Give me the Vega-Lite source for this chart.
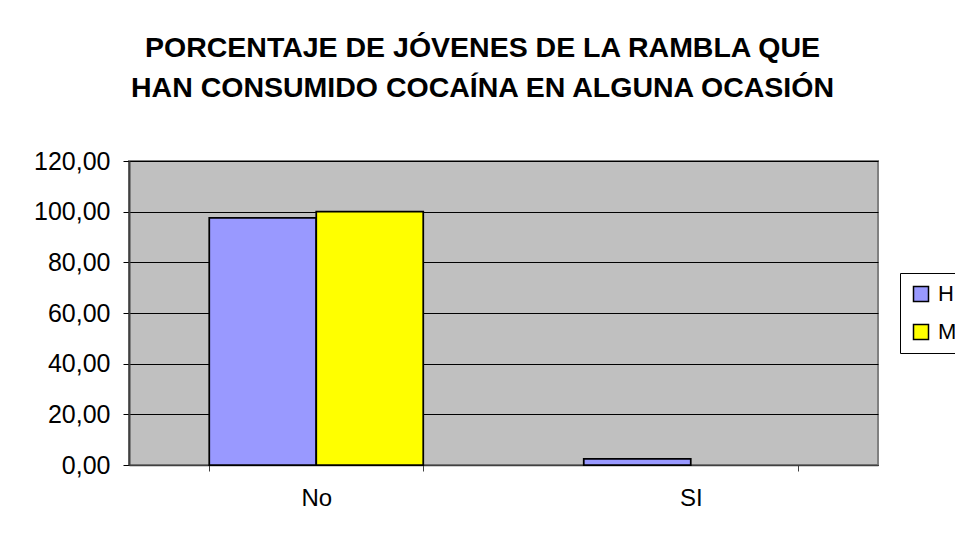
{
  "$schema": "https://vega.github.io/schema/vega-lite/v6.json",
  "autosize": "none",
  "width": 749,
  "height": 304,
  "padding": {"left": 129, "top": 161, "right": 77, "bottom": 68},
  "background": "white",
  "title": {
    "text": ["PORCENTAJE DE JÓVENES DE LA RAMBLA QUE", "HAN CONSUMIDO COCAÍNA EN ALGUNA OCASIÓN"],
    "font": "Liberation Sans",
    "fontSize": 28.5,
    "fontWeight": "bold",
    "color": "black",
    "anchor": "middle",
    "dx": -21,
    "lineHeight": 40,
    "offset": 47
  },
  "data": {
    "values": [
      {"respuesta": "No", "sexo": "H", "porcentaje": 97.56},
      {"respuesta": "No", "sexo": "M", "porcentaje": 100.0},
      {"respuesta": "SI", "sexo": "H", "porcentaje": 2.44},
      {"respuesta": "SI", "sexo": "M", "porcentaje": 0.0}
    ]
  },
  "mark": {"type": "bar", "stroke": "black"},
  "encoding": {
    "x": {
      "field": "respuesta",
      "type": "nominal",
      "sort": ["No", "SI"],
      "scale": {"paddingInner": 0.4286, "paddingOuter": 0.2143},
      "axis": {
        "title": null,
        "labelAngle": 0,
        "labelFont": "Liberation Sans",
        "labelFontSize": 24,
        "labelColor": "black",
        "labelPadding": 15,
        "tickBand": "extent",
        "tickSize": 6,
        "tickColor": "#404040",
        "domainColor": "#404040",
        "domainWidth": 1.5
      }
    },
    "xOffset": {
      "field": "sexo",
      "type": "nominal",
      "scale": {"paddingInner": 0, "paddingOuter": 0}
    },
    "y": {
      "field": "porcentaje",
      "type": "quantitative",
      "scale": {"domain": [0, 120], "nice": false},
      "axis": {
        "title": null,
        "values": [0, 20, 40, 60, 80, 100, 120],
        "labelExpr": "replace(format(datum.value, '.2f'), '.', ',')",
        "labelFont": "Liberation Sans",
        "labelFontSize": 25,
        "labelColor": "black",
        "labelPadding": 13,
        "tickSize": 6,
        "tickColor": "black",
        "domainColor": "#404040",
        "domainWidth": 2,
        "grid": true,
        "gridColor": "black",
        "gridWidth": 1,
        "gridOpacity": 1
      }
    },
    "color": {
      "field": "sexo",
      "type": "nominal",
      "scale": {"domain": ["H", "M"], "range": ["#9999FF", "#FFFF00"]},
      "legend": {
        "title": null,
        "orient": "none",
        "legendX": 771,
        "legendY": 112,
        "strokeColor": "black",
        "fillColor": "white",
        "padding": 10,
        "symbolType": "square",
        "symbolSize": 225,
        "symbolStrokeColor": "black",
        "symbolStrokeWidth": 1.5,
        "symbolOpacity": 1,
        "labelFont": "Liberation Sans",
        "labelFontSize": 22,
        "labelColor": "black",
        "rowPadding": 16,
        "labelOffset": 6
      }
    },
    "strokeWidth": {
      "condition": {"test": "datum.porcentaje > 0", "value": 1.75},
      "value": 0
    }
  },
  "config": {
    "view": {"fill": "#C0C0C0", "stroke": "#808080", "strokeWidth": 2}
  }
}
